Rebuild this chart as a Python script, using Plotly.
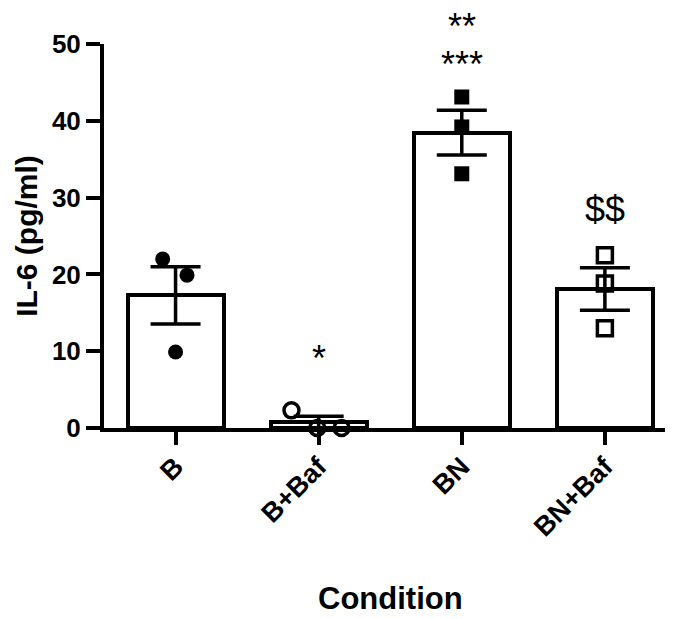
import plotly.graph_objects as go
import numpy as np

# Groups and individual measurements (IL-6, pg/ml)
conditions = ["B", "B+Baf", "BN", "BN+Baf"]
vals_B = [22.0, 19.9, 9.9]
vals_BBaf = [2.3, 0.0, 0.0]
vals_BN = [43.1, 39.2, 33.1]
vals_BNBaf = [22.5, 18.8, 13.0]

# Horizontal scatter of the replicate dots within each group (category units)
jitter_B = [-0.09, 0.08, 0.0]
jitter_BBaf = [-0.19, -0.01, 0.16]
jitter_BN = [0.0, 0.0, 0.0]
jitter_BNBaf = [0.0, 0.0, 0.0]

# Significance marks drawn above the groups
sig_labels = ["*", "**", "***", "$$"]
sig_groups = [1, 2, 2, 3]

groups = [vals_B, vals_BBaf, vals_BN, vals_BNBaf]
jitters = [jitter_B, jitter_BBaf, jitter_BN, jitter_BNBaf]
means = [float(np.mean(g)) for g in groups]
sems = [float(np.std(g, ddof=1) / np.sqrt(len(g))) for g in groups]
xpos = list(range(len(conditions)))

Y_MAX = 50
FONT = "Liberation Sans, Arial, sans-serif"

fig = go.Figure()

fig.add_trace(go.Bar(
    x=xpos, y=means, width=0.67,
    marker=dict(color="white", line=dict(color="black", width=4)),
    error_y=dict(type="data", array=sems, visible=True,
                 color="black", thickness=3.5, width=25),
    showlegend=False, hoverinfo="skip",
))

marker_styles = [
    dict(symbol="circle", size=15, color="black"),
    dict(symbol="circle-open", size=15, color="black", line=dict(width=3.5, color="black")),
    dict(symbol="square", size=15, color="black"),
    dict(symbol="square-open", size=15, color="black", line=dict(width=3.5, color="black")),
]
for i, (g, j) in enumerate(zip(groups, jitters)):
    fig.add_trace(go.Scatter(
        x=[xpos[i] + d for d in j], y=g, mode="markers",
        marker=marker_styles[i], showlegend=False, cliponaxis=False,
        hoverinfo="skip",
    ))

# significance labels, placed in axis units (converted to paper so that
# labels above the top of the axis are still drawn)
sig_y = [9.0, 52.3, 47.3, 28.4]
for lab, gi, yy in zip(sig_labels, sig_groups, sig_y):
    fig.add_annotation(
        x=xpos[gi], xref="x", y=yy / Y_MAX, yref="paper",
        text=lab, showarrow=False, yanchor="middle",
        font=dict(size=36, color="black", family=FONT),
    )

# x-axis title
fig.add_annotation(
    x=0.51, xref="paper", y=-0.443, yref="paper",
    text="<b>Condition</b>", showarrow=False, yanchor="middle",
    font=dict(size=31, color="black", family=FONT),
)

fig.update_layout(
    width=674, height=619,
    margin=dict(l=104, r=9, t=44, b=191),
    plot_bgcolor="white", paper_bgcolor="white",
    font=dict(family=FONT, color="black"),
    bargap=0,
)
fig.update_xaxes(
    range=[-0.5, 3.42], tickvals=xpos,
    ticktext=[f"<b>{c}</b>" for c in conditions],
    tickangle=-45, tickfont=dict(size=27), automargin=False,
    ticklabelstandoff=-5,
    showline=True, linecolor="black", linewidth=4,
    ticks="outside", ticklen=13, tickwidth=4, tickcolor="black",
    showgrid=False, zeroline=False,
)
fig.update_yaxes(
    range=[0, Y_MAX], tickvals=[0, 10, 20, 30, 40, 50],
    ticktext=[f"<b>{v}</b>" for v in [0, 10, 20, 30, 40, 50]],
    tickfont=dict(size=26), automargin=False,
    showline=True, linecolor="black", linewidth=4,
    ticks="outside", ticklen=14, tickwidth=4, tickcolor="black",
    showgrid=False, zeroline=False,
    title=dict(text="<b>IL-6 (pg/ml)</b>", font=dict(size=30), standoff=6),
)

fig.write_html("out.html")
